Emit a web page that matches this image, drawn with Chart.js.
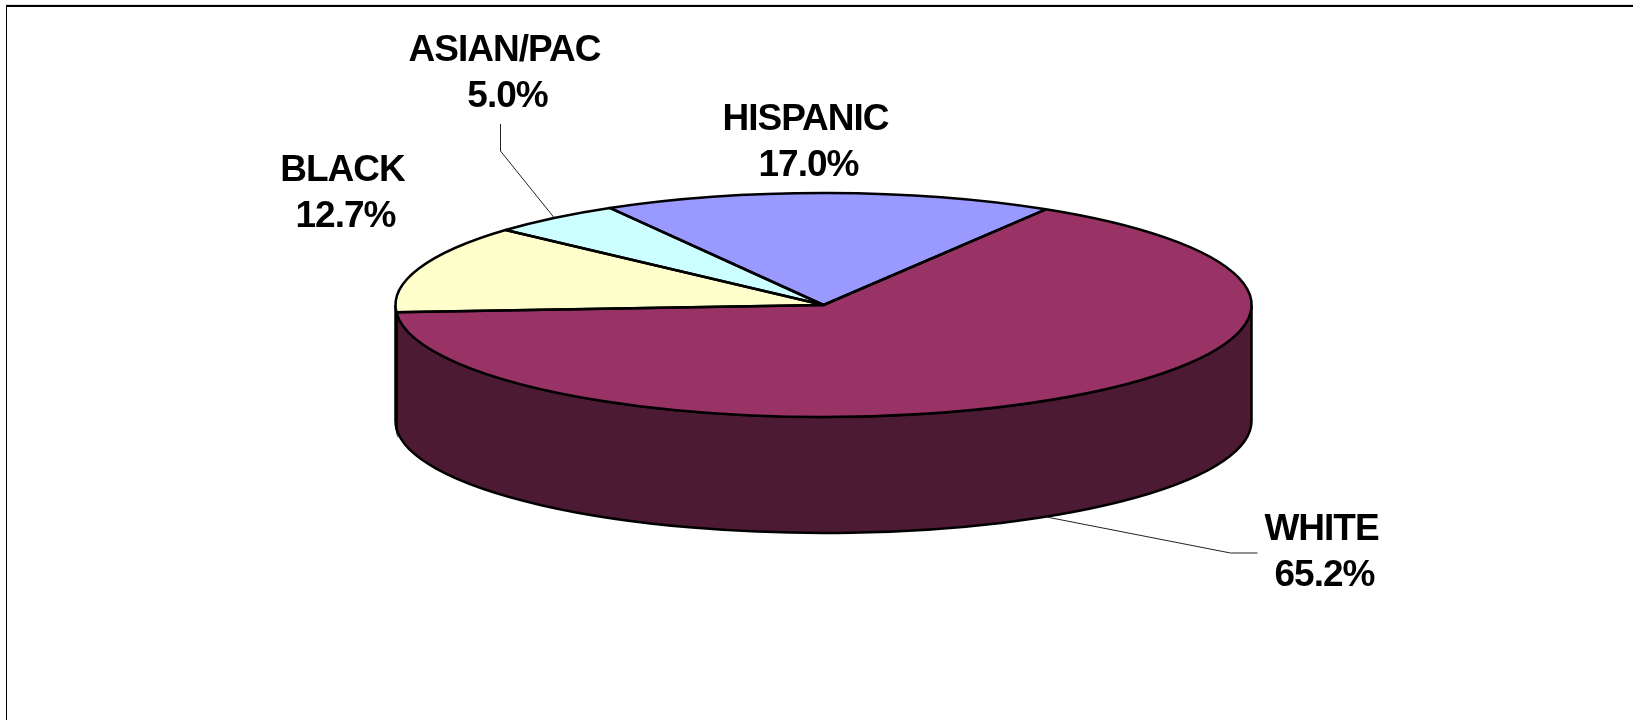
<!DOCTYPE html>
<html>
<head>
<meta charset="utf-8">
<style>
  html, body { margin: 0; padding: 0; background: #fff; overflow: hidden; }
  #wrap { position: relative; width: 1633px; height: 720px; }
  #frame { position: absolute; left: 6px; top: 5px; right: 0; bottom: 0; border-top: 2px solid #000; border-left: 1px solid #000; box-shadow: 0 -1px 0 #ddd; }
  canvas { position: absolute; left: 0; top: 0; }
</style>
<script src="https://cdn.jsdelivr.net/npm/chart.js@4"></script>
</head>
<body>
<div id="wrap">
  <div id="frame"></div>
  <canvas id="pieChart" width="1633" height="720"></canvas>
</div>
<script>
const categories = ["WHITE", "BLACK", "ASIAN/PAC", "HISPANIC"];
const shares = [65.2, 12.7, 5.0, 17.0];
const valueLabels = ["65.2%", "12.7%", "5.0%", "17.0%"];
const topColors = ["#993366", "#FFFFCC", "#CCFFFF", "#9999FF"];
const WALL_COLOR = "#4D1A33";

// the tilted look: circle from the library squashed to this ellipse
const RX = 428, RY = 112, DEPTH = 116;

// label centres, relative to the pie centre
const labelOffsets = [
  { dx: 498, dy: 225 },
  { dx: -481, dy: -134 },
  { dx: -319, dy: -254 },
  { dx: -18, dy: -185 }
];
// the percent line sits a little right of the name
const VALUE_SHIFT = 3;
// leader lines only on these two slices: bend and end, relative to the pie centre
const leaders = [
  { index: 0, bend: [407, 248], end: [434, 248] },
  { index: 2, bend: [-323, -154], end: [-323, -181] }
];

function squash(ctx, el) {
  ctx.translate(el.x, el.y);
  ctx.scale(RX / el.outerRadius, RY / el.outerRadius);
  ctx.translate(-el.x, -el.y);
}

// side wall of one slice, only the part facing the viewer (0..PI on the canvas)
function drawWall(ctx, el) {
  const a0 = Math.max(el.startAngle, 0);
  const a1 = Math.min(el.endAngle, Math.PI);
  if (a1 <= a0) return;
  ctx.beginPath();
  ctx.ellipse(el.x, el.y, RX, RY, 0, a0, a1);
  ctx.ellipse(el.x, el.y + DEPTH, RX, RY, 0, a1, a0, true);
  ctx.closePath();
  ctx.fillStyle = WALL_COLOR;
  ctx.fill();
  ctx.lineWidth = 2.5;
  ctx.strokeStyle = "#000";
  ctx.stroke();
}

const pie3d = {
  id: "pie3d",
  beforeDatasetsDraw(chart) {
    const ctx = chart.ctx;
    const arcs = chart.getDatasetMeta(0).data;
    arcs.forEach((el) => drawWall(ctx, el));
    ctx.save();
    squash(ctx, arcs[0]);
  },
  afterDatasetsDraw(chart) {
    const ctx = chart.ctx;
    ctx.restore();
    const arcs = chart.getDatasetMeta(0).data;
    // outlines stroked without the squash so the line keeps an even width
    arcs.forEach((el) => {
      ctx.beginPath();
      ctx.moveTo(el.x, el.y);
      ctx.ellipse(el.x, el.y, RX, RY, 0, el.startAngle, el.endAngle);
      ctx.closePath();
      ctx.lineWidth = 2.5;
      ctx.strokeStyle = "#000";
      ctx.lineJoin = "round";
      ctx.stroke();
    });
    // leader lines
    ctx.lineWidth = 1;
    ctx.strokeStyle = "#222";
    leaders.forEach((l) => {
      const el = arcs[l.index];
      const mid = (el.startAngle + el.endAngle) / 2;
      const front = Math.sin(mid) > 0 ? DEPTH : 0;
      ctx.beginPath();
      ctx.moveTo(el.x + RX * Math.cos(mid), el.y + RY * Math.sin(mid) + front);
      ctx.lineTo(el.x + l.bend[0], el.y + l.bend[1]);
      ctx.lineTo(el.x + l.end[0], el.y + l.end[1]);
      ctx.stroke();
    });
    // labels
    ctx.fillStyle = "#000";
    ctx.font = "bold 37px 'Liberation Sans'";
    ctx.letterSpacing = "-1px";
    ctx.textAlign = "center";
    ctx.textBaseline = "middle";
    categories.forEach((name, i) => {
      const o = labelOffsets[i];
      ctx.fillText(name, arcs[0].x + o.dx, arcs[0].y + o.dy);
      ctx.fillText(valueLabels[i], arcs[0].x + o.dx + VALUE_SHIFT, arcs[0].y + o.dy + 46);
    });
  }
};

new Chart(document.getElementById("pieChart").getContext("2d"), {
  type: "pie",
  data: {
    labels: categories,
    datasets: [{
      data: shares,
      backgroundColor: topColors,
      borderWidth: 0
    }]
  },
  options: {
    responsive: false,
    animation: false,
    rotation: 31.3,
    layout: { padding: { left: 14, right: 0, top: 0, bottom: 110 } },
    plugins: { legend: { display: false }, tooltip: { enabled: false } }
  },
  plugins: [pie3d]
});
</script>
</body>
</html>
